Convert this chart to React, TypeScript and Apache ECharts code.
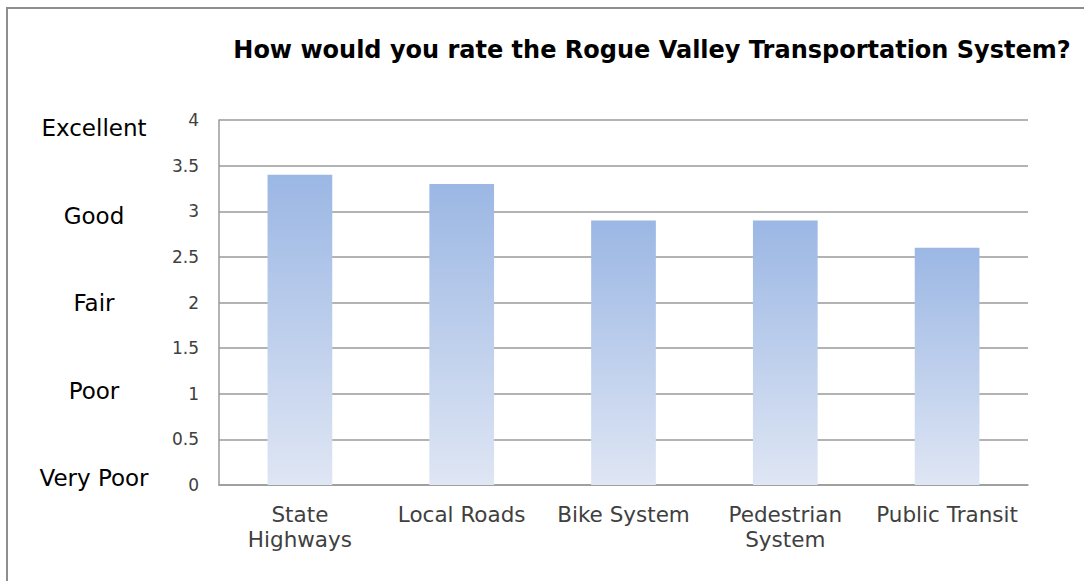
import React, { useEffect, useRef } from "react";
import * as echarts from "echarts";

const titleText = "How would you rate the Rogue Valley Transportation System?";
const categories = ["State\nHighways", "Local Roads", "Bike System", "Pedestrian\nSystem", "Public Transit"];
const ratings = [3.4, 3.3, 2.9, 2.9, 2.6];
const ratingWords = ["Very Poor", "Poor", "Fair", "Good", "Excellent"];
const yMin = 0;
const yMax = 4;
const yInterval = 0.5;

export default function App() {
  const ref = useRef<HTMLDivElement>(null);
  useEffect(() => {
    if (!ref.current) return;
    const chart = echarts.init(ref.current, undefined, { renderer: "svg" });
    const font = "'DejaVu Sans', Verdana, sans-serif";
    chart.setOption({
      animation: false,
      backgroundColor: "transparent",
      title: {
        text: titleText,
        left: 647,
        top: 33,
        textAlign: "center",
        textStyle: { fontFamily: font, fontWeight: "bold", fontSize: 24, color: "#000" },
      },
      grid: [
        { left: 219, right: 56, top: 120, bottom: 96, containLabel: false },
        { left: 219, right: 56, top: 128, bottom: 103, containLabel: false },
      ],
      xAxis: [
        {
          type: "category",
          gridIndex: 0,
          data: categories,
          axisLine: { show: true, lineStyle: { color: "#9a9a9a", width: 1.5 } },
          axisTick: { show: false },
          axisLabel: {
            fontFamily: font,
            fontSize: 21.5,
            color: "#404040",
            lineHeight: 25,
            margin: 17,
            interval: 0,
          },
        },
        { type: "value", gridIndex: 1, show: false },
      ],
      yAxis: [
        {
          type: "value",
          gridIndex: 0,
          min: yMin,
          max: yMax,
          interval: yInterval,
          axisLine: { show: true, lineStyle: { color: "#9a9a9a", width: 1.5 } },
          axisTick: { show: false },
          splitLine: { show: true, lineStyle: { color: "#9a9a9a", width: 1.5 } },
          axisLabel: { fontFamily: font, fontSize: 17, color: "#404040", margin: 20 },
        },
        {
          type: "category",
          gridIndex: 1,
          data: ratingWords,
          boundaryGap: false,
          axisLine: { show: false },
          axisTick: { show: false },
          splitLine: { show: false },
          axisLabel: {
            fontFamily: font,
            fontSize: 23,
            color: "#000",
            margin: 125,
            align: "center",
            interval: 0,
          },
        },
      ],
      series: [
        {
          type: "bar",
          xAxisIndex: 0,
          yAxisIndex: 0,
          data: ratings,
          barWidth: "40%",
          itemStyle: {
            color: new echarts.graphic.LinearGradient(0, 0, 0, 1, [
              { offset: 0, color: "#9bb7e4" },
              { offset: 1, color: "#dfe6f4" },
            ]),
          },
        },
        {
          type: "line",
          xAxisIndex: 1,
          yAxisIndex: 1,
          data: [],
          silent: true,
        },
      ],
    });
    return () => chart.dispose();
  }, []);
  return (
    <div>
      <div
        style={{
          position: "absolute",
          left: 6,
          top: 7,
          width: 1200,
          height: 700,
          borderLeft: "2px solid #8e8e8e",
          borderTop: "2px solid #8e8e8e",
        }}
      />
      <div ref={ref} style={{ position: "absolute", left: 0, top: 0, width: 1084, height: 581 }} />
    </div>
  );
}
